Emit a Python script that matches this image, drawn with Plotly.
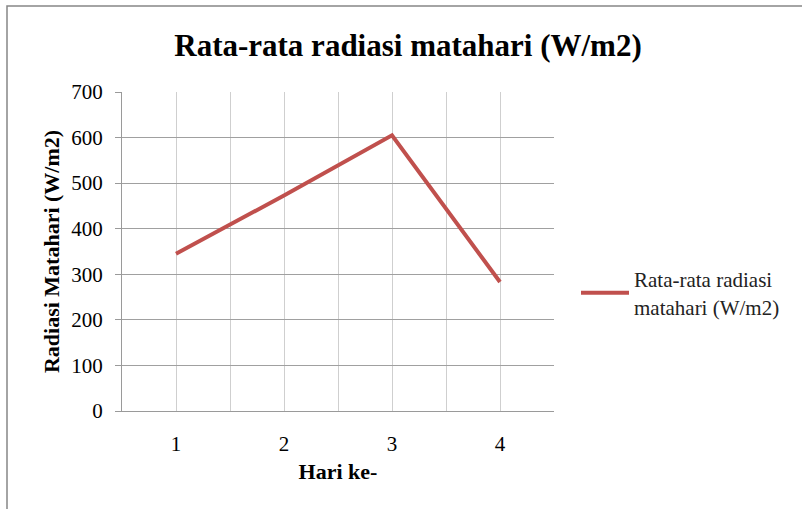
import plotly.graph_objects as go

days = [1, 2, 3, 4]
day_labels = ["1", "2", "3", "4"]
radiation = [345, 473, 605, 283]
series_name = "Rata-rata radiasi<br>matahari (W/m2)"
y_ticks = [0, 100, 200, 300, 400, 500, 600, 700]

W, H = 802, 509
L, R, T, B = 122, 554, 92, 411
pw, ph = R - L, B - T

def px_x(x):
    return (x - L) / pw

def px_y(y):
    return (B - y) / ph

fig = go.Figure()
fig.add_trace(go.Scatter(
    x=days, y=radiation, mode="lines", name=series_name,
    line=dict(color="#C0504D", width=4), showlegend=True,
))

serif = "Liberation Serif"
fig.update_layout(
    width=W, height=H,
    margin=dict(l=L, r=W - R, t=T, b=H - B, autoexpand=False),
    paper_bgcolor="white", plot_bgcolor="white",
    font=dict(family=serif, color="black", size=21),
    title=dict(text="<b>Rata-rata radiasi matahari (W/m2)</b>",
               x=408 / W, xanchor="center", y=1 - 45 / H, yanchor="middle",
               font=dict(family=serif, size=31, color="black")),
    xaxis=dict(range=[0.5, 4.5], tickvals=days, ticktext=day_labels,
               showgrid=True, gridcolor="#cfcfcf", gridwidth=1,
               minor=dict(tickvals=[0.5, 1.5, 2.5, 3.5, 4.5], showgrid=True,
                          gridcolor="#cfcfcf", gridwidth=1),
               showline=True, linecolor="#9a9a9a", linewidth=1,
               ticks="", ticklabelstandoff=14, zeroline=False,
               tickfont=dict(family=serif, size=21),
               title=dict(text="<b>Hari ke-</b>", standoff=8,
                          font=dict(family=serif, size=22))),
    yaxis=dict(range=[0, 700], tickvals=y_ticks,
               showgrid=True, gridcolor="#a0a0a0", gridwidth=1,
               showline=True, linecolor="#9a9a9a", linewidth=1,
               ticks="outside", ticklen=6, tickcolor="#9a9a9a",
               ticklabelstandoff=8,
               zeroline=False, tickfont=dict(family=serif, size=21),
               title=dict(text="<b>Radiasi Matahari (W/m2)</b>", standoff=5,
                          font=dict(family=serif, size=22))),
    legend=dict(x=px_x(576), xanchor="left", y=px_y(293), yanchor="middle",
                font=dict(family=serif, size=21, color="#222222"),
                bgcolor="rgba(0,0,0,0)", itemwidth=48),
    shapes=[dict(type="rect", xref="paper", yref="paper",
                 x0=px_x(7), x1=px_x(815), y0=px_y(520), y1=px_y(6),
                 line=dict(color="#868686", width=1.5), layer="below")],
)

fig.write_html("out.html", config={"displayModeBar": False},
               post_script="document.body.style.margin='0';document.body.style.overflow='hidden';")
